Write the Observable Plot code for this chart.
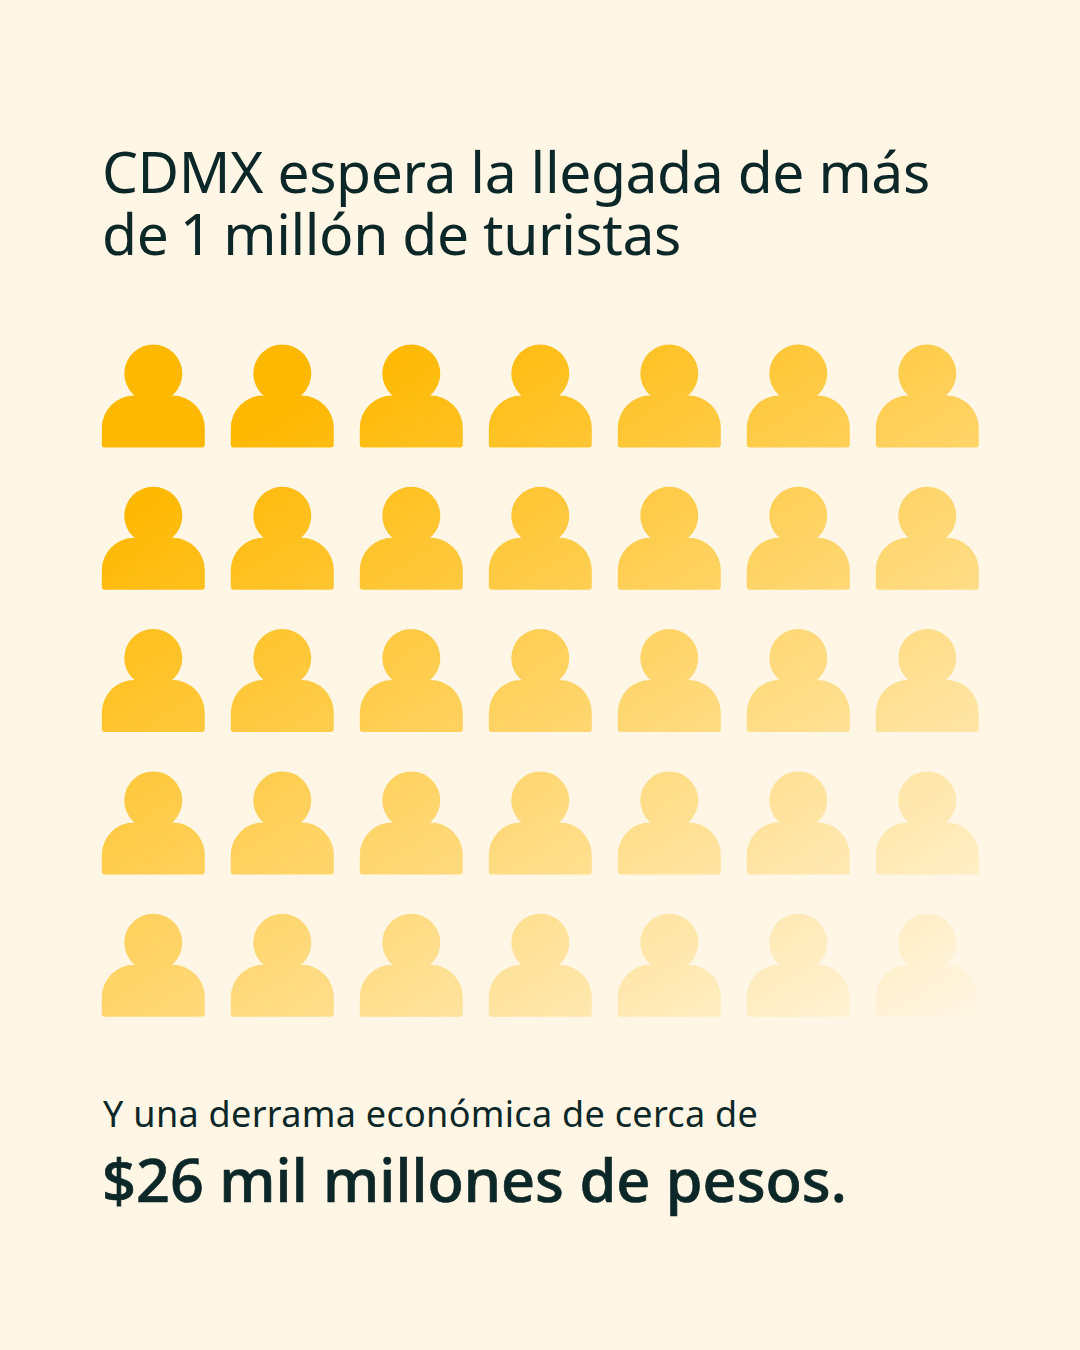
<!DOCTYPE html>
<html lang="es">
<head>
<meta charset="utf-8">
<script src="https://cdn.jsdelivr.net/npm/d3@7"></script>
<script src="https://cdn.jsdelivr.net/npm/@observablehq/plot@0.6"></script>
<style>
  html, body { margin: 0; padding: 0; background: #FFF6E5; }
  #page { position: relative; width: 1080px; height: 1350px; overflow: hidden; background: #FFF6E5; color: #0C2727; font-family: "Noto Sans", sans-serif; }
  .copy { position: absolute; left: 102px; white-space: nowrap; }
  #title { top: 140px; font-size: 57px; line-height: 62px; font-weight: 400; letter-spacing: -0.42px; }
  #title span { word-spacing: -3px; }
  #lead { left: 103px; top: 1092px; font-size: 36px; line-height: 44px; letter-spacing: 0.3px; }
  #big { top: 1139px; font-size: 59.4px; line-height: 80px; font-weight: 500; -webkit-text-stroke: 0.7px #0C2727; }
  #chart { position: absolute; left: 0; top: 320px; width: 1080px; }
  #chart svg { display: block; background: transparent; max-width: none; }
</style>
</head>
<body>
<div id="page">
  <div id="title" class="copy">CDMX espera la llegada de más<br><span>de 1 millón</span> de turistas</div>
  <div id="chart"></div>
  <div id="lead" class="copy">Y una derrama económica de cerca de</div>
  <div id="big" class="copy">$26 mil millones de pesos.</div>
</div>
<svg width="0" height="0" style="position:absolute">
  <defs>
    <linearGradient id="fade">
      <stop offset="0" stop-color="#FFB800"/>
      <stop offset="0.14" stop-color="#FFB800"/>
      <stop offset="1" stop-color="#FFB800" stop-opacity="0"/>
    </linearGradient>
  </defs>
</svg>
<script>
const columns = [0, 1, 2, 3, 4, 5, 6];
const rows = [0, 1, 2, 3, 4];
const people = rows.flatMap((row) => columns.map((column) => ({column, row})));

const person = {
  draw(context) {
    context.moveTo(29, -22.5);
    context.arc(0, -22.5, 29, 0, 2 * Math.PI);
    context.closePath();
    context.moveTo(-51.5, 48.5);
    context.lineTo(-51.5, 32);
    context.arc(-19, 32, 32.5, Math.PI, 1.5 * Math.PI);
    context.lineTo(19, -0.5);
    context.arc(19, 32, 32.5, 1.5 * Math.PI, 2 * Math.PI);
    context.lineTo(51.5, 48.5);
    context.arc(48.5, 48.5, 3, 0, Math.PI / 2);
    context.lineTo(-48.5, 51.5);
    context.arc(-48.5, 48.5, 3, Math.PI / 2, Math.PI);
    context.closePath();
  }
};

const plot = Plot.plot({
  width: 1080,
  height: 720,
  margin: 0,
  style: {background: "transparent"},
  x: {domain: [0, 6], range: [152.8, 926.8], axis: null},
  y: {domain: [0, 4], range: [75.5, 644.7], axis: null},
  color: {type: "identity"},
  marks: [
    Plot.dot(people, {
      x: "column",
      y: "row",
      r: 50,
      symbol: person,
      fill: (d) => `url(#fade-${d.row}-${d.column})`
    })
  ]
});
document.getElementById("chart").append(plot);

// One shared fade across the whole grid, running from its top-left corner
// to its bottom-right corner, weighted slightly towards the vertical.
const sx = plot.scale("x"), sy = plot.scale("y");
const corner0 = [100, 24], corner1 = [980, 698];
const w = corner1[0] - corner0[0], h = corner1[1] - corner0[1];
const a = 0.45 / w, b = 0.55 / h;
const n2 = a * a + b * b;
const vx = a / n2, vy = b / n2;
const defs = document.querySelector("#fade").parentNode;
for (const {row, column} of people) {
  const g = document.createElementNS("http://www.w3.org/2000/svg", "linearGradient");
  g.id = `fade-${row}-${column}`;
  g.setAttribute("href", "#fade");
  g.setAttribute("gradientUnits", "userSpaceOnUse");
  const cx = sx.apply(column), cy = sy.apply(row);
  g.setAttribute("x1", corner0[0] - cx);
  g.setAttribute("y1", corner0[1] - cy);
  g.setAttribute("x2", corner0[0] + vx - cx);
  g.setAttribute("y2", corner0[1] + vy - cy);
  defs.append(g);
}
</script>
</body>
</html>
